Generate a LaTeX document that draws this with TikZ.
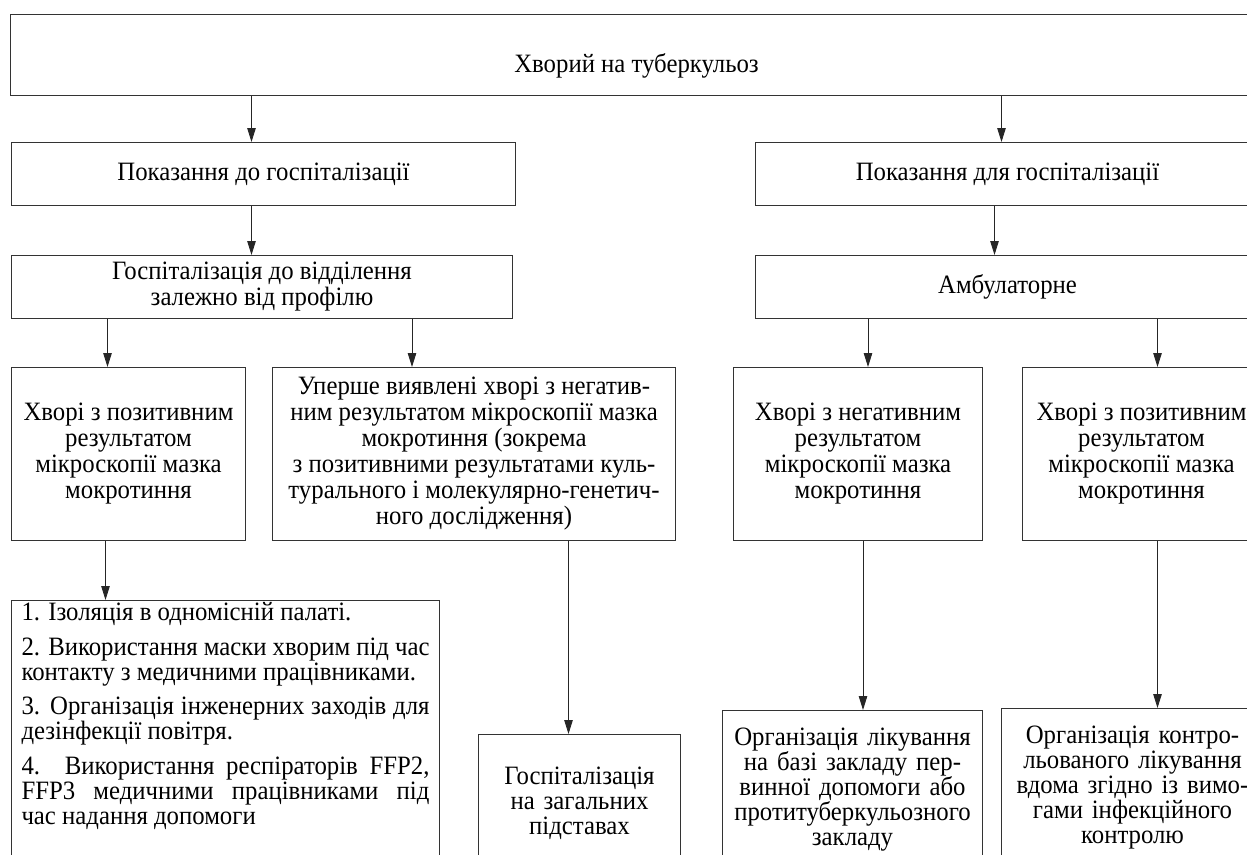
\documentclass[tikz,border=0pt]{standalone}
\usepackage{fontspec}
\setmainfont{Liberation Serif}[FakeStretch=0.935]
\usetikzlibrary{positioning,arrows.meta}

\begin{document}
\begin{tikzpicture}[x=1pt, y=-1pt,
  box/.style={draw=black!80, line width=1pt, align=center, inner sep=4pt,
    font=\fontsize{26.5}{26}\selectfont},
  cutbox/.style={box, font=\fontsize{26.5}{25}\selectfont},
  arr/.style={draw=black!85, line width=0.9pt, -{Triangle[length=14pt,width=8.5pt]}}]
  \path[use as bounding box, clip] (0,0) rectangle (1247,854);

  \node[box, anchor=north west, minimum width=1252pt, minimum height=81pt, text height=34pt, text depth=0pt] (tb) at (10,14) {Хворий на туберкульоз};
  \node[box, minimum width=504pt, minimum height=63pt, below right=46pt and 1pt of tb.south west] (ind) {Показання до госпіталізації};
  \node[box, minimum width=504pt, minimum height=63pt, right=239pt of ind.north east, anchor=north west] (indamb) {Показання для госпіталізації};
  \node[box, minimum width=501pt, minimum height=63pt, below=49pt of ind.south west, anchor=north west] (hosp) {Госпіталізація до відділення\\залежно від профілю};
  \node[box, minimum width=504pt, minimum height=63pt, below=49pt of indamb.south west, anchor=north west] (amb) {Амбулаторне};

  \node[box, minimum width=234pt, minimum height=173pt, below=48pt of hosp.south west, anchor=north west] (pos) {Хворі з позитивним\\результатом\\мікроскопії мазка\\мокротиння};
  \node[box, minimum width=403pt, minimum height=173pt, right=26pt of pos.north east, anchor=north west] (neg) {Уперше виявлені хворі з негатив-\\ним результатом мікроскопії мазка\\мокротиння (зокрема\\з позитивними результатами куль-\\турального і молекулярно-генетич-\\ного дослідження)};
  \node[box, minimum width=249pt, minimum height=173pt, below=48pt of amb.south west, anchor=north west, xshift=-22pt] (aneg) {Хворі з негативним\\результатом\\мікроскопії мазка\\мокротиння};
  \node[box, minimum width=238pt, minimum height=173pt, right=39pt of aneg.north east, anchor=north west] (apos) {Хворі з позитивним\\результатом\\мікроскопії мазка\\мокротиння};

  \node[cutbox, align=justify, text width=408pt, inner xsep=10pt, inner ysep=2pt, below=59pt of pos.south west, anchor=north west] (iso) {\setlength{\parskip}{9.5pt}1. Ізоляція в одномісній палаті.\par
    2. Використання маски хворим під час\linebreak контакту з медичними працівниками.\par
    3. Організація інженерних заходів для\linebreak дезінфекції повітря.\par
    4. Використання респіраторів FFP2,\linebreak FFP3 медичними працівниками під\linebreak час надання допомоги\par\rule{0pt}{40pt}};
  \node[cutbox, text width=190pt, inner xsep=6pt, inner ysep=32pt, below right=193pt and 206pt of neg.south west] (gen) {Госпіталізація\\на загальних\\підставах\par\vspace*{40pt}};
  \node[cutbox, text width=248pt, inner xsep=6pt, inner ysep=17pt, below right=169pt and -11pt of aneg.south west] (prim) {Організація лікування\\на базі закладу пер-\\винної допомоги або\\протитуберкульозного\\закладу\par\vspace*{40pt}};
  \node[cutbox, text width=250pt, inner xsep=6pt, inner ysep=17pt, below right=167pt and -21pt of apos.south west] (home) {Організація контро-\\льованого лікування\\вдома згідно із вимо-\\гами інфекційного\\контролю\par\vspace*{40pt}};

  \draw[arr] ([xshift=-12pt]ind.north |- tb.south) -- ([xshift=-12pt]ind.north);
  \draw[arr] ([xshift=-6pt]indamb.north |- tb.south) -- ([xshift=-6pt]indamb.north);
  \draw[arr] ([xshift=-12pt]ind.south) -- ([xshift=-12pt]ind.south |- hosp.north);
  \draw[arr] ([xshift=-13pt]indamb.south) -- ([xshift=-13pt]indamb.south |- amb.north);
  \draw[arr] ([xshift=-21pt]pos.north |- hosp.south) -- ([xshift=-21pt]pos.north);
  \draw[arr] ([xshift=-62pt]neg.north |- hosp.south) -- ([xshift=-62pt]neg.north);
  \draw[arr] ([xshift=10pt]aneg.north |- amb.south) -- ([xshift=10pt]aneg.north);
  \draw[arr] ([xshift=16pt]apos.north |- amb.south) -- ([xshift=16pt]apos.north);
  \draw[arr] ([xshift=-23pt]pos.south) -- ([xshift=-23pt]pos.south |- iso.north);
  \draw[arr] ([xshift=-11pt]gen.north |- neg.south) -- ([xshift=-11pt]gen.north);
  \draw[arr] ([xshift=5pt]aneg.south) -- ([xshift=5pt]aneg.south |- prim.north);
  \draw[arr] ([xshift=16pt]apos.south) -- ([xshift=16pt]apos.south |- home.north);
\end{tikzpicture}
\end{document}
